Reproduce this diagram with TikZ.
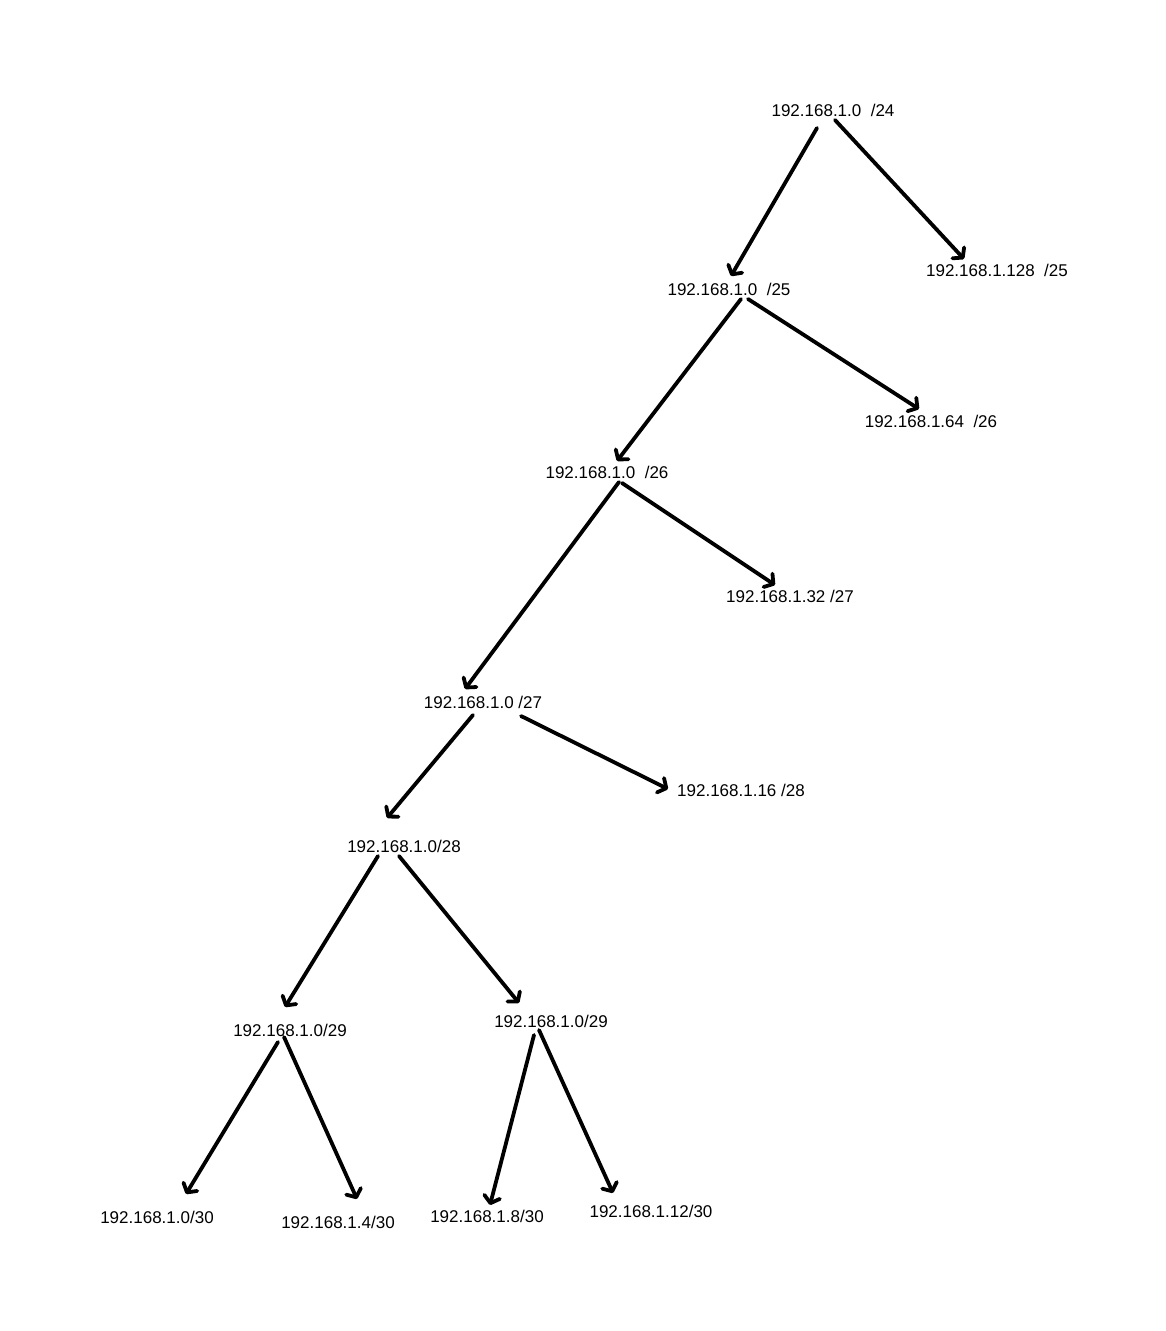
\documentclass[tikz,border=0pt]{standalone}
\usepackage{fontspec}
\setmainfont{Liberation Sans}
\usetikzlibrary{arrows.meta}
\begin{document}
\begin{tikzpicture}[x=1pt,y=-1pt,
  lbl/.style={inner sep=0pt,font=\fontsize{17}{20}\selectfont},
  arr/.style={line width=3.8pt,line cap=round,line join=round,
    -{Straight Barb[length=6.5pt,width=16pt,line cap=round,line join=round]}}]
\useasboundingbox[fill=white] (0,0) rectangle (1166,1331);

% subnet labels
\node[lbl] (n24)  at (833,110)  {192.168.1.0~~/24};
\node[lbl] (n128) at (997,270)  {192.168.1.128~~/25};
\node[lbl] (n25)  at (729,289)  {192.168.1.0~~/25};
\node[lbl] (n64)  at (931,421)  {192.168.1.64~~/26};
\node[lbl] (n26)  at (607,472)  {192.168.1.0~~/26};
\node[lbl] (n32)  at (790,596)  {192.168.1.32 /27};
\node[lbl] (n27)  at (483,702)  {192.168.1.0 /27};
\node[lbl] (n16)  at (741,790)  {192.168.1.16 /28};
\node[lbl] (n28)  at (404,846)  {192.168.1.0/28};
\node[lbl] (n29a) at (290,1030) {192.168.1.0/29};
\node[lbl] (n29b) at (551,1021) {192.168.1.0/29};
\node[lbl] (n30a) at (157,1217) {192.168.1.0/30};
\node[lbl] (n30b) at (338,1222) {192.168.1.4/30};
\node[lbl] (n30c) at (487,1216) {192.168.1.8/30};
\node[lbl] (n30d) at (651,1211) {192.168.1.12/30};

% splitting arrows
\draw[arr] ([shift={(-16,18)}]n24.center) -- ([shift={(2,-13)}]n25.center);
\draw[arr] ([shift={(2,10)}]n24.center) -- ([shift={(-33,-11)}]n128.center);
\draw[arr] ([shift={(12,10)}]n25.center) -- ([shift={(10,-11)}]n26.center);
\draw[arr] ([shift={(19,10)}]n25.center) -- ([shift={(-12,-12)}]n64.center);
\draw[arr] ([shift={(12,10)}]n26.center) -- ([shift={(-18,-13)}]n27.center);
\draw[arr] ([shift={(15,11)}]n26.center) -- ([shift={(-15,-11)}]n32.center);
\draw[arr] ([shift={(-10,13)}]n27.center) -- ([shift={(-17,-28)}]n28.center);
\draw[arr] ([shift={(38,14)}]n27.center) -- ([shift={(-73,-1)}]n16.center);
\draw[arr] ([shift={(-26,10)}]n28.center) -- ([shift={(-5,-23)}]n29a.center);
\draw[arr] ([shift={(-5,10)}]n28.center) -- ([shift={(-32,-18)}]n29b.center);
\draw[arr] ([shift={(-12,12)}]n29a.center) -- ([shift={(29,-23)}]n30a.center);
\draw[arr] ([shift={(-6,7)}]n29a.center) -- ([shift={(19,-23)}]n30b.center);
\draw[arr] ([shift={(-17,14)}]n29b.center) -- ([shift={(3,-11)}]n30c.center);
\draw[arr] ([shift={(-12,9)}]n29b.center) -- ([shift={(-38,-18)}]n30d.center);
\end{tikzpicture}
\end{document}
